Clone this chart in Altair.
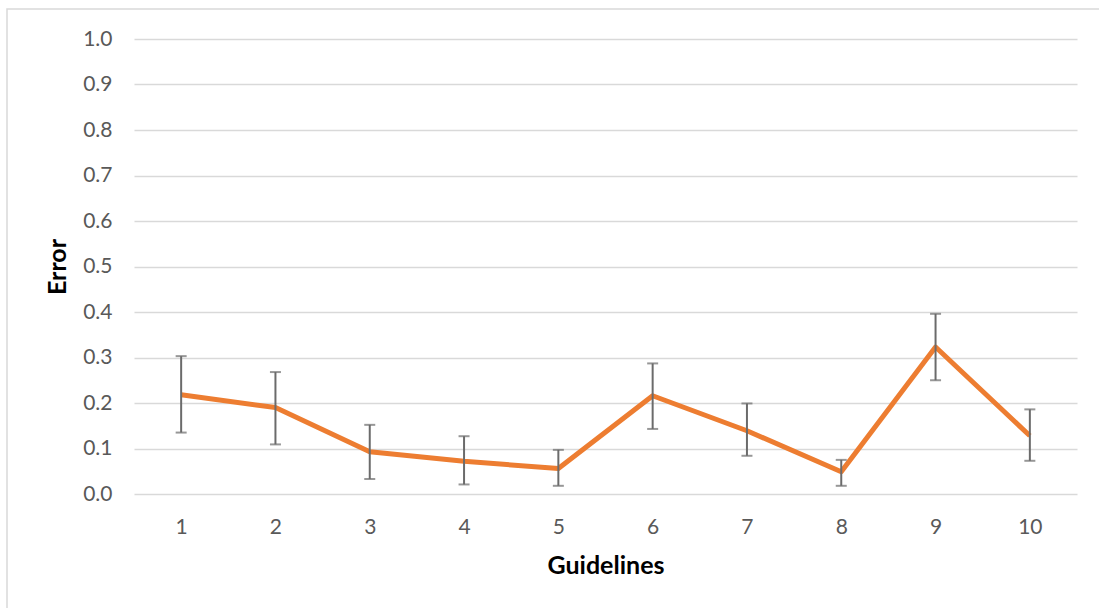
import altair as alt
import pandas as pd

# Mean error per guideline with lower / upper error-bar bounds
guidelines = ["1", "2", "3", "4", "5", "6", "7", "8", "9", "10"]
error_mean = [0.218, 0.190, 0.093, 0.072, 0.056, 0.216, 0.139, 0.049, 0.323, 0.128]
error_low = [0.135, 0.109, 0.033, 0.021, 0.018, 0.143, 0.084, 0.018, 0.250, 0.073]
error_high = [0.303, 0.268, 0.152, 0.127, 0.097, 0.287, 0.199, 0.075, 0.396, 0.186]
y_ticks = [0.0, 0.1, 0.2, 0.3, 0.4, 0.5, 0.6, 0.7, 0.8, 0.9, 1.0]

df = pd.DataFrame({
    "Guideline": guidelines,
    "Error": error_mean,
    "Low": error_low,
    "High": error_high,
})

FONT = "Lato"
LABEL_COLOR = "#595959"
GRID_COLOR = "#D9D9D9"
BAR_COLOR = "#6B6B6B"

x_enc = alt.X(
    "Guideline:O",
    sort=guidelines,
    scale=alt.Scale(type="point", padding=0.5),
    title="Guidelines",
    axis=alt.Axis(
        labelAngle=0, labelPadding=22, ticks=False, domain=False, grid=False,
        titlePadding=16, titleFontWeight="bold", titleFontSize=25,
        titleColor="#000000", labelFontSize=21, labelColor=LABEL_COLOR,
        labelFont=FONT, titleFont=FONT,
    ),
)

y_scale = alt.Scale(domain=[0, 1], nice=False)

line = alt.Chart(df).mark_line(color="#ED7D31", strokeWidth=5, strokeJoin="round").encode(
    x=x_enc,
    y=alt.Y(
        "Error:Q",
        scale=y_scale,
        title="Error",
        axis=alt.Axis(
            values=y_ticks, format=".1f", ticks=False, domain=False,
            gridColor=GRID_COLOR, gridWidth=1.5, labelPadding=22,
            labelFontSize=21, labelColor=LABEL_COLOR, labelFont=FONT,
            titleFont=FONT, titleFontSize=25, titleFontWeight="bold",
            titleColor="#000000", titlePadding=12,
        ),
    ),
)

bars = alt.Chart(df).mark_rule(color=BAR_COLOR, strokeWidth=2).encode(
    x=alt.X("Guideline:O", sort=guidelines),
    y=alt.Y("Low:Q", scale=y_scale),
    y2="High:Q",
)

caps_low = alt.Chart(df).mark_tick(color=BAR_COLOR, size=11, thickness=2).encode(
    x=alt.X("Guideline:O", sort=guidelines),
    y=alt.Y("Low:Q", scale=y_scale),
)
caps_high = alt.Chart(df).mark_tick(color=BAR_COLOR, size=11, thickness=2).encode(
    x=alt.X("Guideline:O", sort=guidelines),
    y=alt.Y("High:Q", scale=y_scale),
)

# light frame around the whole chart area
frame = alt.Chart(df.head(1)).mark_rect(
    fill=None, stroke=GRID_COLOR, strokeWidth=1.5
).encode(
    x=alt.value(-127), x2=alt.value(975), y=alt.value(-30), y2=alt.value(580)
)

chart = alt.layer(frame, line, bars, caps_low, caps_high).properties(
    width=943,
    height=455,
    padding={"left": 134, "top": 39, "right": 22, "bottom": 114},
    autosize="none",
    background="white",
).configure_view(stroke=None)

chart.save("out.html", embed_options={"renderer": "svg", "actions": False})
